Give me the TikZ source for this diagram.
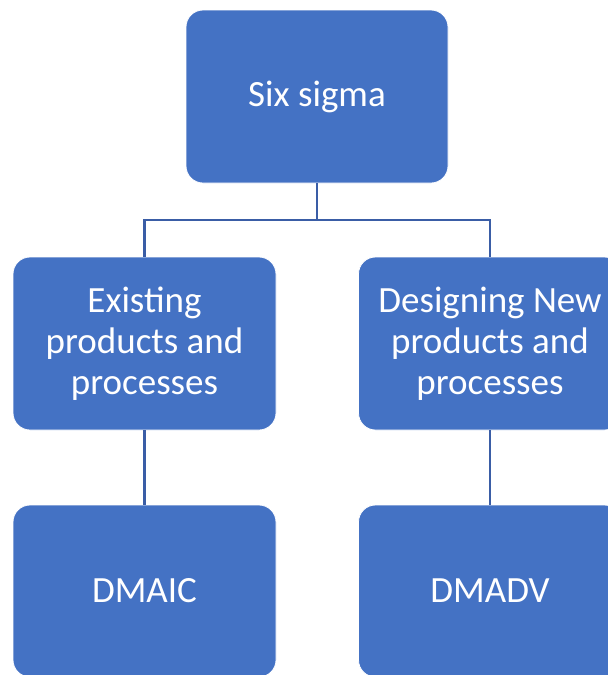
\documentclass[tikz,border=0pt]{standalone}
\usepackage{fontspec}
\setmainfont{Carlito}
\definecolor{boxfill}{HTML}{4472C4}
\definecolor{linecol}{HTML}{3A5DA6}
\begin{document}
\begin{tikzpicture}[x=1pt,y=-1pt,
  box/.style={draw=white,line width=0.8pt,fill=boxfill,rounded corners=17pt,
    minimum width=263pt,minimum height=173pt,inner sep=0pt,text=white,
    align=center,font=\fontsize{37}{41}\selectfont},
  conn/.style={draw=linecol,line width=2.5pt}]
\useasboundingbox (0,0) rectangle (608,675);
\node[box,minimum width=262pt] (top) at (317,96.5) {Six sigma};
\node[box] (ml) at (144.5,343.5) {Existing\\products and\\processes};
\node[box] (mr) at (490,343.5) {Designing New\\products and\\processes};
\node[box,minimum height=172pt] (bl) at (144.5,591) {DMAIC};
\node[box,minimum height=172pt] (br) at (490,591) {DMADV};
\coordinate (j) at (317,220);
\draw[conn] (top.south) -- (j);
\draw[conn] (ml.north) |- (j) -| (mr.north);
\draw[conn] (ml.south) -- (bl.north);
\draw[conn] (mr.south) -- (br.north);
\end{tikzpicture}
\end{document}
